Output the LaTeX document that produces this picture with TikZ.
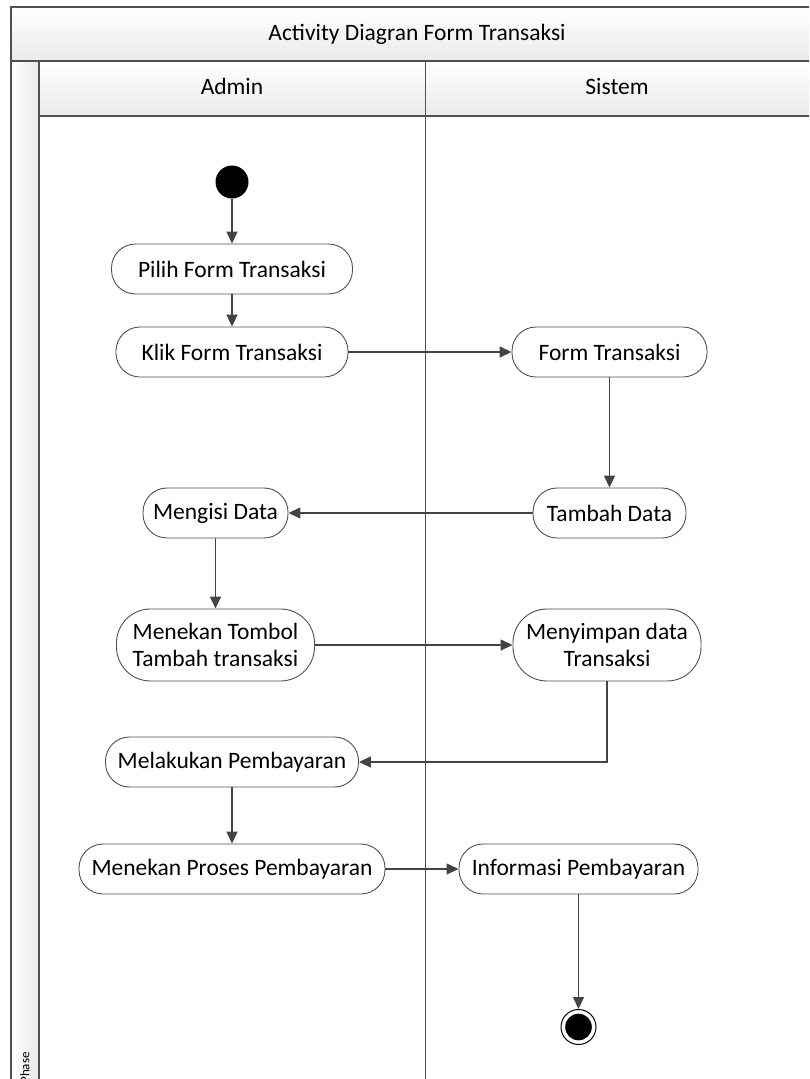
\documentclass[tikz,border=0pt]{standalone}
\usepackage{fontspec}
\setmainfont{Carlito}
\usetikzlibrary{arrows.meta}
\definecolor{edgegray}{HTML}{444444}
\definecolor{framegray}{HTML}{505050}
\definecolor{bandlo}{HTML}{EAEAEA}
\tikzset{
  act/.style={draw=framegray, line width=0.9pt, fill=white, rounded corners=24pt,
    minimum height=50pt, inner sep=0pt, align=center,
    font=\fontsize{23.5}{27}\selectfont},
  act2/.style={act, rounded corners=34pt, minimum height=72pt},
  flow/.style={draw=edgegray, line width=1.5pt,
    -{Triangle[length=12pt,width=11pt]}},
  frameline/.style={draw=framegray, line width=1.6pt},
  band/.style={top color=white, bottom color=bandlo, draw=none},
  headtxt/.style={font=\fontsize{23.5}{27}\selectfont, text height=16pt, text depth=5pt}
}
\begin{document}
\begin{tikzpicture}[x=1pt,y=-1pt]
\useasboundingbox (0,0) rectangle (809,1079);
\clip (0,0) rectangle (809,1079);
\fill[white] (0,0) rectangle (809,1079);

% swimlane frame: title band, lane headers, phase column
\path[band] (11,7) rectangle (830,61);
\path[band] (39,61) rectangle (830,116);
\path[left color=white, right color=bandlo] (11,61) rectangle (39,1090);
\draw[frameline] (11,1090) -- (11,7) -- (830,7);
\draw[frameline] (11,61) -- (830,61);
\draw[frameline] (39,116) -- (830,116);
\draw[frameline] (39,61) -- (39,1090);
\draw[framegray, line width=1.3pt] (425.5,61) -- (425.5,1090);

\node[headtxt] (title) at (417,35) {Activity Diagran Form Transaksi};
\node[headtxt] (laneA) at (232,89) {Admin};
\node[headtxt] (laneS) at (617,89) {Sistem};
\node[rotate=90, font=\fontsize{13}{15}\selectfont] (phase) at (25,1068) {Phase};

% start and end
\node[circle, fill=black, minimum size=33pt, inner sep=0pt] (init) at (232,182) {};
\node[circle, draw=black, line width=1pt, fill=white, minimum size=35pt, inner sep=0pt] (final) at (578.5,1027) {};
\fill[black] (final.center) circle (13.3pt);

% activities, Admin lane
\node[act, minimum width=241pt] (pilih) at (232,269) {Pilih Form Transaksi};
\node[act, minimum width=232pt] (klik) at (232,352) {Klik Form Transaksi};
\node[act, minimum width=145pt] (isi) at (215.5,513) {Mengisi Data};
\node[act2, minimum width=198pt] (tombol) at (215.5,645) {Menekan Tombol\\Tambah transaksi};
\node[act, minimum width=253pt] (bayar) at (232,762) {Melakukan Pembayaran};
\node[act, minimum width=306pt] (proses) at (232,869) {Menekan Proses Pembayaran};

% activities, Sistem lane
\node[act, minimum width=195pt] (form) at (609.5,352) {Form Transaksi};
\node[act, minimum width=153pt] (tambah) at (609.5,513) {Tambah Data};
\node[act2, minimum width=188pt] (simpan) at (607,645) {Menyimpan data\\Transaksi};
\node[act, minimum width=239pt] (info) at (578.5,869) {Informasi Pembayaran};

% control flow
\draw[flow] (init) -- (pilih);
\draw[flow] (pilih) -- (klik);
\draw[flow] (klik) -- (form);
\draw[flow] (form) -- (tambah);
\draw[flow] (tambah) -- (isi);
\draw[flow] (isi) -- (tombol);
\draw[flow] (tombol) -- (simpan);
\draw[flow] (simpan.south) |- (bayar.east);
\draw[flow] (bayar) -- (proses);
\draw[flow] (proses) -- (info);
\draw[flow] (info) -- (final);
\end{tikzpicture}
\end{document}
